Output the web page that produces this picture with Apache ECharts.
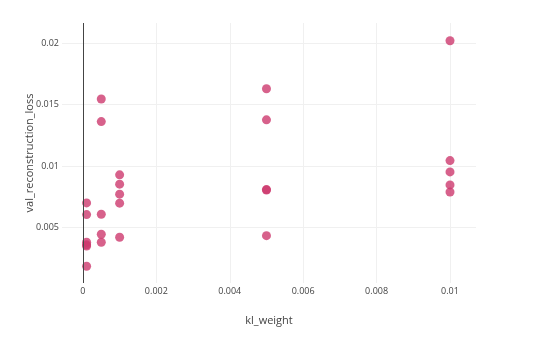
<!DOCTYPE html>
<html><head><meta charset="utf-8">
<script src="https://cdn.jsdelivr.net/npm/echarts@6/dist/echarts.min.js"></script>
<style>html,body{margin:0;padding:0;background:#fff}#c{width:538px;height:346px}</style>
</head><body><div id="c"></div>
<script>
const klWeight = [0.0001,0.0001,0.0001,0.0001,0.0001,0.0001,
  0.0005,0.0005,0.0005,0.0005,0.0005,
  0.001,0.001,0.001,0.001,0.001,
  0.005,0.005,0.005,0.005,0.005,
  0.01,0.01,0.01,0.01,0.01];
const valReconLoss = [0.00701,0.00606,0.00381,0.00360,0.00351,0.00186,
  0.01545,0.01362,0.00609,0.00446,0.00381,
  0.00929,0.00853,0.00772,0.00699,0.00422,
  0.01629,0.01376,0.00809,0.00806,0.00435,
  0.02019,0.01045,0.00953,0.00847,0.00790];
const xTicks = [0,0.002,0.004,0.006,0.008,0.01];
const yTicks = [0.005,0.01,0.015,0.02];
const xTitle = 'kl_weight';
const yTitle = 'val_reconstruction_loss';

const font = '"Open Sans", sans-serif';
const chart = echarts.init(document.getElementById('c'), null, {renderer:'canvas'});
chart.setOption({
  animation:false,
  grid:{left:62,right:62,top:23,bottom:63},
  xAxis:{type:'value',min:-0.00057,max:0.010708,
    name:xTitle,nameLocation:'middle',nameGap:32,
    nameTextStyle:{color:'#444',fontFamily:font,fontSize:11},
    axisLine:{show:false},axisTick:{show:false,customValues:xTicks},
    axisLabel:{customValues:xTicks,color:'#444',fontFamily:font,fontSize:9,margin:4,
      formatter:v=>String(v)},
    splitLine:{show:true,lineStyle:{color:'#f0f0f0',width:1}}},
  yAxis:{type:'value',min:0.0005,max:0.02163,
    name:yTitle,nameLocation:'middle',nameGap:27,nameMoveOverlap:false,
    nameTextStyle:{color:'#444',fontFamily:font,fontSize:11},
    axisLine:{show:false},axisTick:{show:false,customValues:yTicks},
    axisLabel:{customValues:yTicks,color:'#444',fontFamily:font,fontSize:9,margin:3,
      formatter:v=>String(v)},
    splitLine:{show:true,lineStyle:{color:'#f0f0f0',width:1}}},
  series:[{type:'scatter',symbolSize:9,
    data:klWeight.map((x,i)=>[x,valReconLoss[i]]),
    itemStyle:{color:'rgb(205,58,110)',opacity:0.8},
    markLine:{silent:true,symbol:'none',label:{show:false},
      lineStyle:{color:'#444',type:'solid',width:1},
      data:[{xAxis:0}]}}]
});
</script></body></html>
